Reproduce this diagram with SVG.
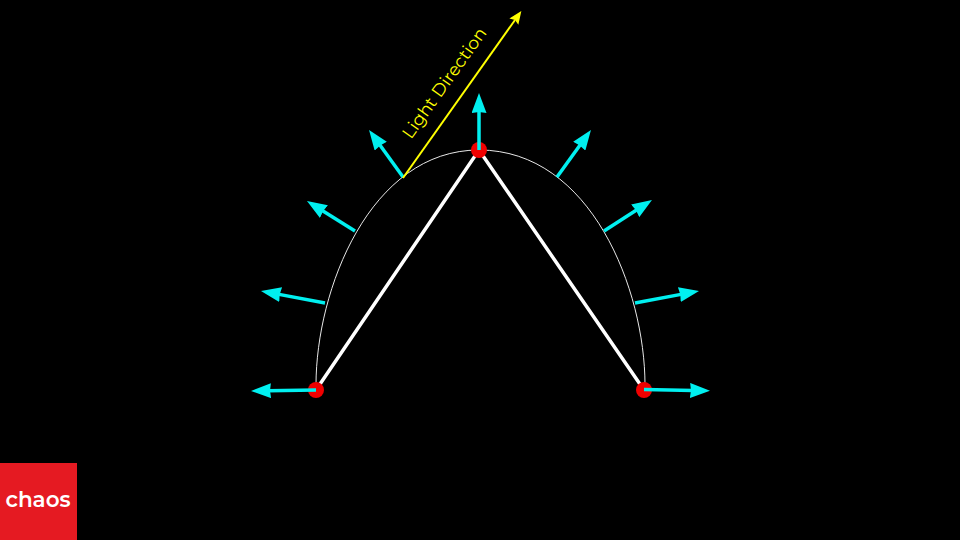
<svg xmlns="http://www.w3.org/2000/svg" width="960" height="540" viewBox="0 0 960 540">
<style>
.cy{stroke:#00f0f0;stroke-width:3.5;fill:none;marker-end:url(#c)}
.pt{fill:#f00000}
.lab{font-family:"Montserrat","Inter","Open Sans",sans-serif}
</style>
<defs>
<marker id="c" markerUnits="userSpaceOnUse" viewBox="0 0 20 15" refX="3" refY="7.5" markerWidth="20" markerHeight="15" orient="auto"><path d="M0 0L20 7.5L0 15L1 7.5Z" fill="#00f0f0"/></marker>
<marker id="y" markerUnits="userSpaceOnUse" viewBox="0 0 13 11" refX="2" refY="5.5" markerWidth="13" markerHeight="11" orient="auto"><path d="M0 0L13 5.5L0 11L2 5.5Z" fill="#ffff00"/></marker>
</defs>
<rect width="960" height="540" fill="#000"/>
<g id="connectors">
<path d="M316 385C316 290 370 150 479 150C591 150 645 290 645 385" fill="none" stroke="#e8e8e8" stroke-width="1"/>
<path d="M316 390L479 150L644 390" fill="none" stroke="#fff" stroke-width="3.5"/>
<line class="cy" x1="325" y1="303" x2="277.7" y2="294.1"/>
<line class="cy" x1="355" y1="231" x2="321.4" y2="210"/>
<line class="cy" x1="403" y1="177" x2="379" y2="143.8"/>
<line class="cy" x1="557" y1="177" x2="581" y2="143.8"/>
<line class="cy" x1="604" y1="231" x2="637.7" y2="209.2"/>
<line class="cy" x1="635" y1="303" x2="682.3" y2="294.1"/>
<line x1="403" y1="178" x2="515" y2="20" stroke="#ffff00" stroke-width="2" marker-end="url(#y)"/>
</g>
<g id="point-left"><circle class="pt" cx="316" cy="390" r="8"/></g>
<g id="point-top"><circle class="pt" cx="479" cy="150" r="8"/></g>
<g id="point-right"><circle class="pt" cx="644" cy="390" r="8"/></g>
<g id="normals-over-points">
<line class="cy" x1="316" y1="390" x2="268" y2="390.7"/>
<line class="cy" x1="479" y1="150" x2="479" y2="110"/>
<line class="cy" x1="644" y1="389.5" x2="693" y2="390.5"/>
</g>
<g id="light-label"><text class="lab" transform="translate(411 140) rotate(-54.5)" font-size="17.5" fill="#ffff00">Light Direction</text></g>
<g id="logo"><rect x="0" y="463" width="77" height="77" fill="#e51a22"/><text class="lab" x="5.5" y="507" font-size="21.5" font-weight="600" fill="#fff">chaos</text></g>
</svg>
